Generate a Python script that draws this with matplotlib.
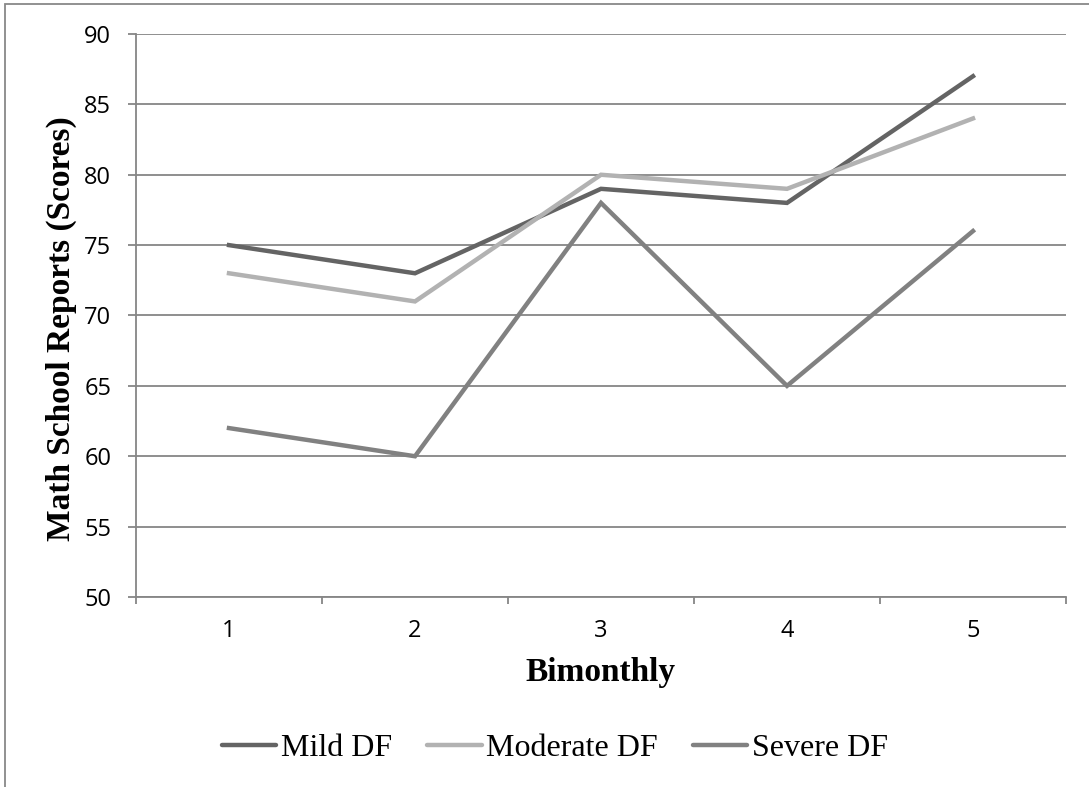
import matplotlib.pyplot as plt
from matplotlib.patches import Rectangle

periods = ['1', '2', '3', '4', '5']
mild = [75, 73, 79, 78, 87]
moderate = [73, 71, 80, 79, 84]
severe = [62, 60, 78, 65, 76]

series_names = ['Mild DF', 'Moderate DF', 'Severe DF']
series_colors = ['#646464', '#b2b2b2', '#818181']

W, H = 1089, 787
fig = plt.figure(figsize=(W / 100, H / 100), dpi=100)
ax = fig.add_axes([136 / W, 1 - 597 / H, 930 / W, 563 / H])

x = range(len(periods))
for vals, name, col in zip([mild, moderate, severe], series_names, series_colors):
    ax.plot(x, vals, color=col, lw=3.2, label=name, solid_joinstyle='miter', zorder=3)

grid_col = '#868686'
ax.set_ylim(50, 90)
ax.set_yticks(range(50, 91, 5))
ax.set_xlim(-0.5, len(periods) - 0.5)
ax.set_xticks(list(x))
ax.set_xticklabels(periods)
ax.set_xticks([i - 0.5 for i in range(len(periods) + 1)], minor=True)
ax.yaxis.grid(True, color=grid_col, lw=1.3)
ax.set_axisbelow(True)

for s in ['top', 'right']:
    ax.spines[s].set_visible(False)
for s in ['left', 'bottom']:
    ax.spines[s].set_color(grid_col)
    ax.spines[s].set_linewidth(1.3)

ax.tick_params(axis='y', length=5.8, width=1.3, color=grid_col, labelsize=17, pad=12)
ax.tick_params(axis='x', which='major', length=0, labelsize=17, pad=16)
ax.tick_params(axis='x', which='minor', length=5, width=1.3, color=grid_col)
for lab in ax.get_xticklabels() + ax.get_yticklabels():
    lab.set_family('Open Sans')

fig.text(61 / W, 1 - 329 / H, 'Math School Reports (Scores)', family='Liberation Serif',
         fontweight='bold', fontsize=24, rotation=90, ha='center', va='center')
fig.text(600 / W, 1 - 672 / H, 'Bimonthly', family='Liberation Serif',
         fontweight='bold', fontsize=24, ha='center', va='center')

leg = fig.legend(loc='center', bbox_to_anchor=(555 / W, 1 - 748 / H), ncol=3, frameon=False,
                 prop={'family': 'Liberation Serif', 'size': 23}, handlelength=1.7,
                 handletextpad=0.15, columnspacing=1.1)
for h in leg.get_lines():
    h.set_solid_capstyle('round')

fig.patches.append(Rectangle((5 / W, -0.05), 1.2, 1 - 4 / H + 0.05, transform=fig.transFigure,
                             fill=False, edgecolor='#888888', lw=1.3))

fig.savefig('out.png', dpi=100)
